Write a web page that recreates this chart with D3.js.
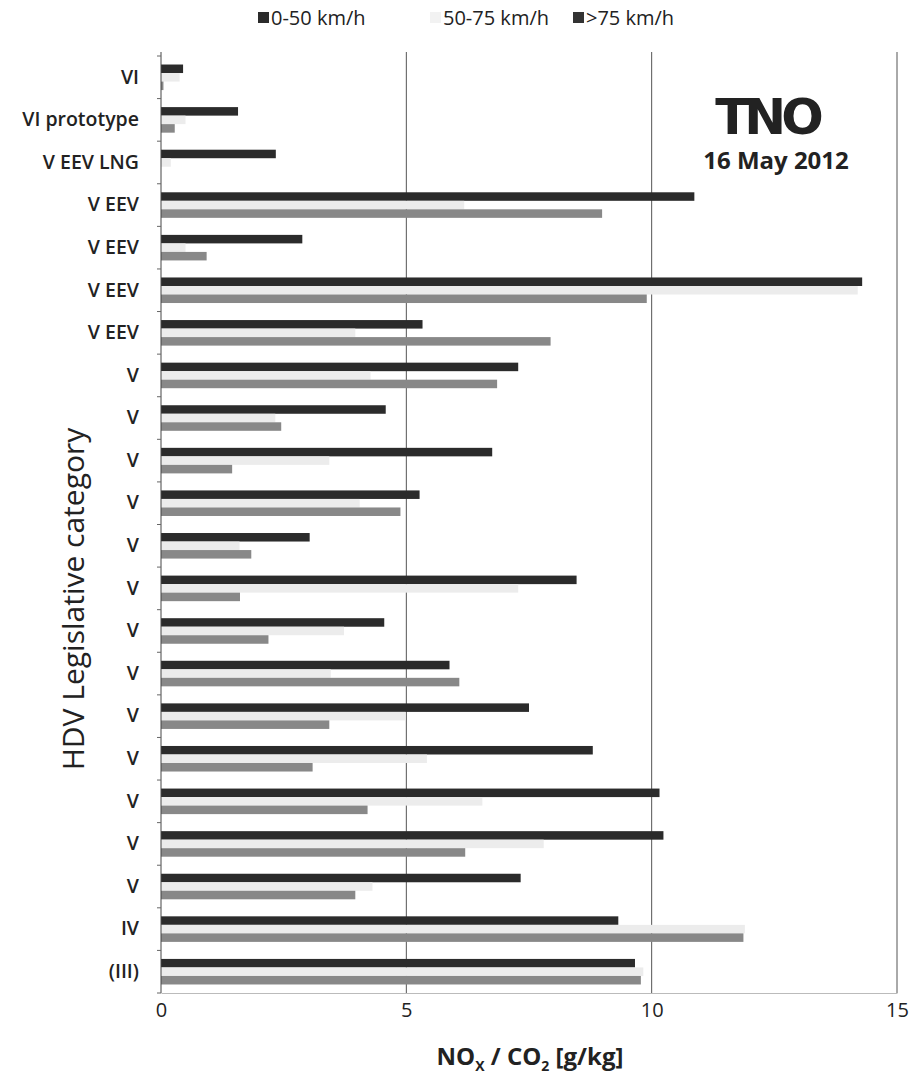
<!DOCTYPE html>
<html>
<head>
<meta charset="utf-8">
<script src="https://cdn.jsdelivr.net/npm/d3@7"></script>
<style>
body { margin: 0; background: #fff; }
svg { display: block; }
text { font-family: "Open Sans", "Noto Sans", sans-serif; fill: #222; }
</style>
</head>
<body>
<svg id="chart" width="917" height="1085"></svg>
<script>
const categories = ["VI", "VI prototype", "V EEV LNG", "V EEV", "V EEV", "V EEV", "V EEV",
  "V", "V", "V", "V", "V", "V", "V", "V", "V", "V", "V", "V", "V", "IV", "(III)"];
const seriesNames = ["0-50 km/h", "50-75 km/h", ">75 km/h"];
const speedLow = [0.45, 1.57, 2.34, 10.87, 2.88, 14.29, 5.33, 7.28, 4.58, 6.75, 5.27, 3.03, 8.47, 4.55, 5.88, 7.5, 8.8, 10.16, 10.24, 7.33, 9.32, 9.66];
const speedMid = [0.38, 0.5, 0.2, 6.18, 0.5, 14.2, 3.96, 4.27, 2.33, 3.43, 4.05, 1.6, 7.28, 3.73, 3.46, 4.98, 5.42, 6.55, 7.8, 4.31, 11.9, 9.83];
const speedHigh = [0.05, 0.28, 0.0, 8.99, 0.93, 9.9, 7.94, 6.85, 2.45, 1.45, 4.88, 1.84, 1.61, 2.19, 6.08, 3.43, 3.09, 4.21, 6.2, 3.96, 11.87, 9.78];
const xTicks = [0, 5, 10, 15];
const colors = ["#2b2b2b", "#ececec", "#888888"];
const legendColors = ["#2b2b2b", "#f2f2f2", "#333333"];

const rows = categories.map((c, i) => ({ i, cat: c, vals: [speedLow[i], speedMid[i], speedHigh[i]] }));

const svg = d3.select("#chart");
const x = d3.scaleLinear().domain([0, 15]).range([161, 897]);
const y = d3.scaleBand().domain(d3.range(categories.length)).range([56, 993]).padding(0);
const step = y.step();
const inner = d3.scaleBand().domain(d3.range(3)).range([step * 0.2, step * 0.8]).padding(0);

// gridlines
svg.append("g").selectAll("line").data(xTicks.filter(t => t > 0)).join("line")
  .attr("x1", d => x(d)).attr("x2", d => x(d))
  .attr("y1", 52).attr("y2", 993)
  .attr("stroke", "#555").attr("stroke-width", 1);

// bars
const g = svg.append("g");
rows.forEach(r => {
  g.selectAll(null).data(r.vals).join("rect")
    .attr("x", x(0))
    .attr("y", (d, k) => y(r.i) + inner(k))
    .attr("width", d => x(d) - x(0))
    .attr("height", inner.bandwidth())
    .attr("fill", (d, k) => colors[k]);
});

// bottom axis
const xAxis = d3.axisBottom(x).tickValues(xTicks).tickSize(0).tickPadding(10);
const gx = svg.append("g").attr("transform", "translate(0,993)").call(xAxis);
gx.select(".domain").attr("stroke", "#bbb");
gx.selectAll("text").attr("font-size", 20).attr("fill", "#222")
  .style("font-family", "'Open Sans', sans-serif");

// left axis
const yAxis = d3.axisLeft(y).tickFormat(i => categories[i]).tickSize(0).tickPadding(22);
const gy = svg.append("g").attr("transform", "translate(161,0)").call(yAxis);
gy.select(".domain").attr("stroke", "#444").attr("d", "M0,52V993");
gy.selectAll("text").attr("font-size", 19.5).attr("font-weight", 600).attr("fill", "#1a1a1a")
  .style("font-family", "'Open Sans', sans-serif");
// boundary ticks
svg.append("g").selectAll("line").data(d3.range(categories.length + 1)).join("line")
  .attr("x1", 157).attr("x2", 161)
  .attr("y1", d => 56 + d * step).attr("y2", d => 56 + d * step)
  .attr("stroke", "#666");

// axis titles
svg.append("text").attr("transform", "translate(84,599) rotate(-90)")
  .attr("text-anchor", "middle").attr("font-size", 30).attr("font-weight", 400)
  .attr("fill", "#1a1a1a")
  .text("HDV Legislative category");

const xt = svg.append("text").attr("x", 530).attr("y", 1065)
  .attr("text-anchor", "middle").attr("font-size", 24).attr("font-weight", 700);
xt.append("tspan").text("NO");
xt.append("tspan").attr("font-size", 14).attr("dy", 6).text("X");
xt.append("tspan").attr("dy", -6).text(" /  CO");
xt.append("tspan").attr("font-size", 14).attr("dy", 6).text("2");
xt.append("tspan").attr("dy", -6).text(" [g/kg]");

// legend
const legendX = [258, 430, 573];
const lg = svg.append("g");
seriesNames.forEach((s, k) => {
  lg.append("rect").attr("x", legendX[k]).attr("y", 12).attr("width", 11).attr("height", 11)
    .attr("fill", legendColors[k]);
  lg.append("text").attr("x", legendX[k] + 13).attr("y", 25).attr("font-size", 20).text(s);
});

// TNO logo
svg.append("text").attr("x", 767).attr("y", 134).attr("text-anchor", "middle")
  .attr("font-size", 50).attr("font-weight", 900).attr("letter-spacing", -5)
  .attr("fill", "#333").style("font-family", "'DejaVu Sans', sans-serif")
  .text("TNO");
svg.append("text").attr("x", 776).attr("y", 169).attr("text-anchor", "middle")
  .attr("font-size", 24).attr("font-weight", 700).attr("fill", "#333")
  .text("16 May 2012");
</script>
</body>
</html>
